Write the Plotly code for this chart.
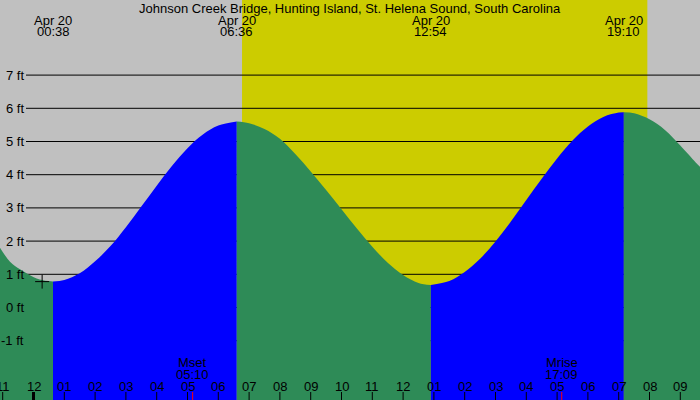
import plotly.graph_objects as go

# ---------------- data ----------------
title_text = "Johnson Creek Bridge, Hunting Island, St. Helena Sound, South Carolina"

# tide height readings: hours after midnight Apr 20, height in feet
tide_hours = [-1.088, -0.763, -0.438, -0.169, 0.2, 0.633,
              1.0, 1.5, 2.0, 2.5, 3.0, 3.5, 4.0, 4.5, 5.0, 5.5, 6.0, 6.6,
              7.0, 7.5, 8.0, 8.5, 9.0, 9.5, 10.0, 10.5, 11.0, 11.5, 12.0, 12.5, 12.9,
              13.5, 14.0, 14.5, 15.0, 15.5, 16.0, 16.5, 17.0, 17.5, 18.0, 18.5, 19.0, 19.167,
              19.5, 20.0, 20.5, 21.0, 21.5, 21.64]
tide_ft = [1.80, 1.38, 1.15, 1.0, 0.84, 0.78,
           0.83, 1.03, 1.39, 1.85, 2.42, 3.04, 3.67, 4.27, 4.80, 5.21, 5.48, 5.60,
           5.55, 5.38, 5.08, 4.62, 4.10, 3.54, 2.96, 2.38, 1.83, 1.35, 0.98, 0.74, 0.68,
           0.80, 1.07, 1.47, 1.99, 2.59, 3.24, 3.88, 4.49, 5.03, 5.45, 5.74, 5.87, 5.88,
           5.85, 5.67, 5.35, 4.88, 4.37, 4.24]

extreme_hours = [0.633, 6.6, 12.9, 19.167]
extreme_times = ["00:38", "06:36", "12:54", "19:10"]
extreme_date = "Apr 20"

sunrise_hour = 6.77
sunset_hour = 19.93

moon_hours = [5.167, 17.15]
moon_names = ["Mset", "Mrise"]
moon_times = ["05:10", "17:09"]

hour_ticks = list(range(-1, 22))
hour_labels = ["%02d" % (((h - 1) % 12) + 1) for h in hour_ticks]

ft_ticks = [-1, 0, 1, 2, 3, 4, 5, 6, 7]
ft_labels = ["%d ft" % v for v in ft_ticks]

marker_hour, marker_ft = 0.28, 0.78

# ---------------- styling ----------------
W, H = 700, 400
X_RANGE = [-1.0877, 21.6396]
Y_RANGE = [-2.786, 9.262]
GRAY = "#c0c0c0"
YELLOW = "#cccc00"
GREEN = "#2e8b57"
BLUE = "#0000ff"
FONT = "Liberation Sans, Arial, sans-serif"
FS = 13


def py(pix):
    return 1 - pix / H


def px(pix):
    return pix / W


fig = go.Figure()

# split the curve at the extremes into falling (green) / rising (blue) parts
bounds = [X_RANGE[0] - 1] + extreme_hours + [X_RANGE[1] + 1]
for i in range(len(bounds) - 1):
    lo, hi = bounds[i], bounds[i + 1]
    idx = [k for k, t in enumerate(tide_hours) if lo - 1e-9 <= t <= hi + 1e-9]
    xs = [tide_hours[k] for k in idx]
    ys = [tide_ft[k] for k in idx]
    color = GREEN if i % 2 == 0 else BLUE
    fig.add_trace(go.Scatter(x=[xs[0], xs[-1]], y=[-5, -5], mode="lines",
                             line=dict(width=0), hoverinfo="skip"))
    fig.add_trace(go.Scatter(x=xs, y=ys, mode="lines", fill="tonexty",
                             fillcolor=color,
                             line=dict(width=0, color=color, shape="spline", smoothing=1),
                             hoverinfo="skip"))

fig.add_trace(go.Scatter(x=[marker_hour], y=[marker_ft], mode="markers",
                         marker=dict(symbol="cross-thin", size=10,
                                     line=dict(width=1, color="black")),
                         hoverinfo="skip"))

shapes = []
# daylight band
shapes.append(dict(type="rect", xref="x", yref="paper", x0=sunrise_hour, x1=sunset_hour,
                   y0=0, y1=1, fillcolor=YELLOW, line=dict(width=0), layer="below"))
# horizontal level lines
for v in ft_ticks:
    shapes.append(dict(type="line", xref="paper", yref="y", x0=px(26), x1=1, y0=v, y1=v,
                       line=dict(color="black", width=1), layer="below"))
# hour ticks
for h in hour_ticks:
    shapes.append(dict(type="line", xref="x", yref="paper", x0=h, x1=h, y0=0, y1=py(392),
                       line=dict(color="black", width=3 if h == 0 else 1)))
# moon ticks
for h in moon_hours:
    shapes.append(dict(type="line", xref="x", yref="paper", x0=h, x1=h, y0=0, y1=py(392),
                       line=dict(color="red", width=1)))

ann = []
ann.append(dict(text=title_text, xref="paper", yref="paper", x=0.5, y=py(8),
                xanchor="center", yanchor="middle", showarrow=False,
                font=dict(size=FS, color="black", family=FONT)))
for h, t in zip(extreme_hours, extreme_times):
    ann.append(dict(text=extreme_date, xref="x", yref="paper", x=h, y=py(20),
                    xanchor="center", yanchor="middle", showarrow=False,
                    font=dict(size=FS, color="black", family=FONT)))
    ann.append(dict(text=t, xref="x", yref="paper", x=h, y=py(31.5),
                    xanchor="center", yanchor="middle", showarrow=False,
                    font=dict(size=FS, color="black", family=FONT)))
for v, lab in zip(ft_ticks, ft_labels):
    ann.append(dict(text=lab, xref="paper", yref="y", x=px(26), y=v,
                    xanchor="right", yanchor="middle", showarrow=False,
                    font=dict(size=FS, color="black", family=FONT)))
for h, lab in zip(hour_ticks, hour_labels):
    ann.append(dict(text=lab, xref="x", yref="paper", x=h, y=py(386),
                    xanchor="center", yanchor="middle", showarrow=False,
                    font=dict(size=FS, color="black", family=FONT)))
for h, n, t in zip(moon_hours, moon_names, moon_times):
    ann.append(dict(text=n, xref="x", yref="paper", x=h, y=py(362),
                    xanchor="center", yanchor="middle", showarrow=False,
                    font=dict(size=FS, color="black", family=FONT)))
    ann.append(dict(text=t, xref="x", yref="paper", x=h, y=py(374),
                    xanchor="center", yanchor="middle", showarrow=False,
                    font=dict(size=FS, color="black", family=FONT)))

fig.update_layout(
    width=W, height=H, margin=dict(l=0, r=0, t=0, b=0),
    paper_bgcolor=GRAY, plot_bgcolor=GRAY, showlegend=False,
    xaxis=dict(range=X_RANGE, visible=False, fixedrange=True),
    yaxis=dict(range=Y_RANGE, visible=False, fixedrange=True),
    shapes=shapes, annotations=ann,
)

fig.write_html("out.html", config={"displayModeBar": False},
               post_script="document.body.style.margin='0';document.body.style.padding='0';")
